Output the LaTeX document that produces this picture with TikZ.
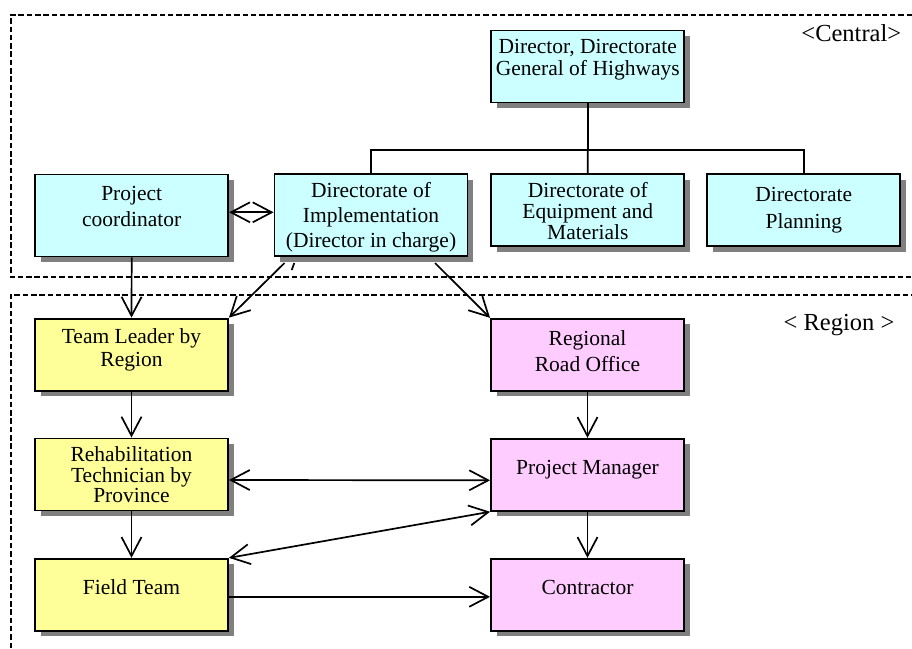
\documentclass[tikz,border=0pt]{standalone}
\usepackage{fontspec}
\setmainfont{Liberation Serif}
\usetikzlibrary{arrows.meta,shadows}
\definecolor{cyanf}{HTML}{CCFFFF}
\definecolor{yelf}{HTML}{FFFF99}
\definecolor{pinkf}{HTML}{FFCCFF}
\definecolor{shad}{HTML}{808080}
\newcommand\boxfont[1]{\fontsize{21.5}{#1}\selectfont}
\begin{document}
\begin{tikzpicture}[x=1pt,y=-1pt,
  box/.style={draw, line width=1.9pt, minimum width=193pt, minimum height=72pt, inner sep=0pt,
    drop shadow={shadow xshift=5.5pt, shadow yshift=-5.5pt, fill=shad, opacity=1}},
  tall/.style={minimum height=82pt},
  cen/.style={box, fill=cyanf},
  yel/.style={box, fill=yelf},
  pnk/.style={box, fill=pinkf},
  txt/.style={align=center, inner sep=0pt, anchor=north},
  conn/.style={line width=1.7pt},
  arr/.style={conn, -{Straight Barb[length=19pt,width=20pt,line width=1.7pt]}},
  darr/.style={conn, {Straight Barb[length=19pt,width=20pt,line width=1.7pt]}-{Straight Barb[length=19pt,width=20pt,line width=1.7pt]}},
  zone/.style={line width=2pt, dash pattern=on 5.5pt off 2.8pt},
  lab/.style={font=\fontsize{24.5}{28}\selectfont, anchor=base, inner sep=0pt}]
\useasboundingbox (0,0) rectangle (912,648);

% zones
\draw[zone] (912,14.5) -- (11,14.5) -- (11,277) -- (912,277);
\draw[zone] (11,648) -- (11,294.5) -- (912,294.5);
\node[lab] (central) at (851.3,41) {<Central>};
\node[lab] (region) at (839,330) {< Region >};

% boxes
\node[cen] (dir) at (587.75,66.5) {};
\node[cen,tall] (pc) at (131.7,215.5) {};
\node[cen,tall] (impl) at (371,215.3) {};
\node[cen] (equip) at (587.8,210.3) {};
\node[cen] (plan) at (803.8,210.3) {};
\node[yel] (tl) at (131.5,354.6) {};
\node[pnk] (rro) at (587.5,354.8) {};
\node[yel] (rehab) at (131.5,474.5) {};
\node[pnk] (pm) at (587.5,474.8) {};
\node[yel] (ft) at (131.5,594.8) {};
\node[pnk] (con) at (587.5,594.8) {};

% texts
\node[txt,font=\boxfont{22}] (dir-t) at (587.75,39.3) {Director, Directorate\\General of Highways};
\node[txt,font=\boxfont{26}] (pc-t) at (131.7,186) {Project\\coordinator};
\node[txt,font=\boxfont{25}] (impl-t) at (371,182.6) {Directorate of\\Implementation\\(Director in charge)};
\node[txt,font=\boxfont{21}] (equip-t) at (587.8,182.6) {Directorate of\\Equipment and\\Materials};
\node[txt,font=\boxfont{26.7}] (plan-t) at (803.8,187) {Directorate\\Planning};
\node[txt,font=\boxfont{22.7}] (tl-t) at (131.5,328.6) {Team Leader by\\Region};
\node[txt,font=\boxfont{25.7}] (rro-t) at (587.5,330.3) {Regional\\Road Office};
\node[txt,font=\boxfont{20.7}] (rehab-t) at (131.5,446.3) {Rehabilitation\\Technician by\\Province};
\node[txt,font=\boxfont{22}] (pm-t) at (587.5,460.3) {Project Manager};
\node[txt,font=\boxfont{22}] (ft-t) at (131.5,579.6) {Field Team};
\node[txt,font=\boxfont{22}] (con-t) at (587.5,580.3) {Contractor};

% connectors
\coordinate (bus) at (587.75,150);
\draw[conn] (dir.south) -- (bus);
\draw[conn] (impl.north) |- (bus) -| (plan.north);
\draw[conn] (bus) -- (equip.north);

\draw[darr] ([yshift=3.2pt]pc.east) -- ([yshift=3pt]impl.west);
\draw[arr] (pc.south) -- (tl.north);
\coordinate (implL) at (284.5,263);
\coordinate (implR) at (435,263);
\coordinate (tickA) at (291.7,270);
\coordinate (tickB) at (294.3,263);
\draw[arr] (implL) -- (tl.north east);
\draw[conn] (tickA) -- (tickB);
\draw[arr] (implR) -- (rro.north west);

\draw[arr] (tl.south) -- (rehab.north);
\draw[arr] (rehab.south) -- (ft.north);
\draw[arr] (rro.south) -- (pm.north);
\draw[arr] (pm.south) -- (con.north);
\draw[darr] ([yshift=-5.5pt]rehab.east) -- ([yshift=-5.5pt]pm.west);
\draw[darr] (ft.north east) -- (pm.south west);
\draw[arr] ([yshift=-2pt]ft.east) -- ([yshift=-2pt]con.west);
\end{tikzpicture}
\end{document}
